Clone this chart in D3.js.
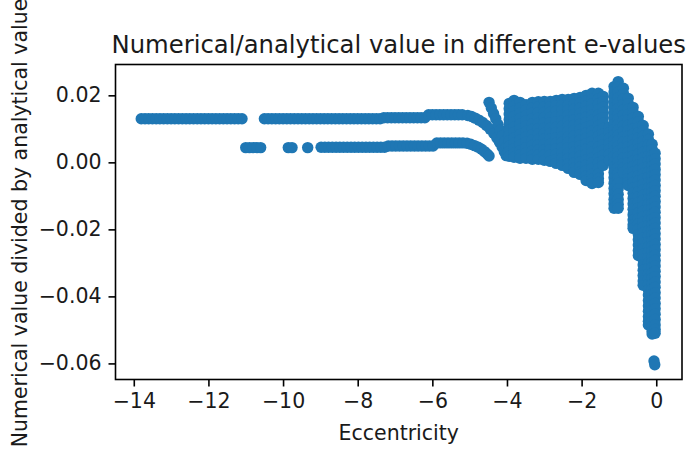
<!DOCTYPE html>
<html>
<head>
<meta charset="utf-8">
<script src="https://cdnjs.cloudflare.com/ajax/libs/d3/7.8.5/d3.min.js"></script>
<style>
    body {margin: 0; background: #fff;}
    text {font-family: "DejaVu Sans", sans-serif;}
</style>
</head>
<body>
<div id="chart"></div>
<script>
let width_chart = 689;
let height_chart = 450;
let plot_box = {left: 115.5, right: 682, top: 64.5, bottom: 379.5};

let x_domain = [-14.49, 0.69];
let y_domain = [-0.0648, 0.0292];
let x_ticks = [-14, -12, -10, -8, -6, -4, -2, 0];
let y_ticks = [-0.06, -0.04, -0.02, 0.00, 0.02];

let title_text = "Numerical/analytical value in different e-values";
let x_label_text = "Eccentricity";
let y_label_text = "Numerical value divided by analytical value";

// upper branch (e, ratio)
let upper_band = [
    [-13.8,0.0130],[-13.7,0.0130],[-13.6,0.0130],[-13.5,0.0130],[-13.4,0.0130],[-13.3,0.0130],[-13.2,0.0130],
    [-13.1,0.0130],[-13.0,0.0130],[-12.9,0.0130],[-12.8,0.0130],[-12.7,0.0130],[-12.6,0.0130],[-12.5,0.0130],
    [-12.4,0.0130],[-12.3,0.0130],[-12.2,0.0130],[-12.1,0.0130],[-12.0,0.0130],[-11.9,0.0130],[-11.8,0.0130],
    [-11.7,0.0130],[-11.6,0.0130],[-11.5,0.0130],[-11.4,0.0130],[-11.3,0.0130],[-11.2,0.0130],[-11.1,0.0130],
    [-10.5,0.0130],[-10.4,0.0130],[-10.3,0.0130],[-10.2,0.0130],[-10.1,0.0130],[-10.0,0.0130],[-9.9,0.0130],
    [-9.8,0.0130],[-9.7,0.0130],[-9.6,0.0130],[-9.5,0.0130],[-9.4,0.0130],[-9.3,0.0130],[-9.2,0.0130],
    [-9.1,0.0130],[-9.0,0.0130],[-8.9,0.0130],[-8.8,0.0130],[-8.7,0.0130],[-8.6,0.0130],[-8.5,0.0130],
    [-8.4,0.0130],[-8.3,0.0130],[-8.2,0.0130],[-8.1,0.0130],[-8.0,0.0130],[-7.9,0.0130],[-7.8,0.0130],
    [-7.7,0.0130],[-7.6,0.0130],[-7.5,0.0130],[-7.4,0.0130],
    [-7.3,0.0133],[-7.2,0.0133],[-7.1,0.0133],[-7.0,0.0133],[-6.9,0.0133],[-6.8,0.0133],[-6.7,0.0133],
    [-6.6,0.0133],[-6.5,0.0133],[-6.4,0.0133],[-6.3,0.0133],[-6.2,0.0133],
    [-6.1,0.0142],[-6.0,0.0142],[-5.9,0.0142],[-5.8,0.0142],[-5.7,0.0142],[-5.6,0.0142],[-5.5,0.0142],
    [-5.4,0.0142],[-5.3,0.0142],[-5.2,0.0142],
    [-5.05,0.0140],[-4.95,0.0137],[-4.85,0.0132],[-4.75,0.0126],[-4.65,0.0119],[-4.55,0.0110],[-4.45,0.0099],
    [-4.35,0.0086],[-4.27,0.0073],[-4.20,0.0060],[-4.13,0.0046],[-4.07,0.0032],[-4.02,0.0020]
];

// lower branch (e, ratio)
let lower_band = [
    [-11.0,0.0044],[-10.9,0.0044],[-10.8,0.0044],[-10.7,0.0044],[-10.6,0.0044],
    [-9.86,0.0044],[-9.76,0.0044],[-9.34,0.0044],
    [-8.98,0.0045],[-8.88,0.0045],[-8.78,0.0045],[-8.68,0.0045],[-8.58,0.0045],[-8.48,0.0045],[-8.38,0.0045],
    [-8.28,0.0045],[-8.18,0.0045],[-8.08,0.0045],[-7.98,0.0045],[-7.88,0.0045],[-7.78,0.0045],[-7.68,0.0045],
    [-7.58,0.0045],[-7.48,0.0045],[-7.38,0.0045],[-7.28,0.0045],
    [-7.18,0.0049],[-7.08,0.0049],[-6.98,0.0049],[-6.88,0.0049],[-6.78,0.0049],[-6.68,0.0049],[-6.58,0.0049],
    [-6.48,0.0049],[-6.38,0.0049],[-6.28,0.0049],[-6.18,0.0049],[-6.08,0.0049],[-5.98,0.0049],
    [-5.88,0.0058],[-5.78,0.0058],[-5.68,0.0058],[-5.58,0.0058],[-5.48,0.0058],[-5.38,0.0058],[-5.28,0.0058],
    [-5.18,0.0058],
    [-5.07,0.0057],[-4.97,0.0054],[-4.87,0.0050],[-4.77,0.0045],[-4.68,0.0039],[-4.60,0.0032],[-4.53,0.0025],
    [-4.48,0.0019]
];

// first spike where the oscillation starts
let first_spike = [
    [-4.48,0.0179],[-4.42,0.0162],[-4.36,0.0146],[-4.30,0.0130],[-4.24,0.0113],[-4.18,0.0096],
    [-4.12,0.0080],[-4.06,0.0063],[-4.01,0.0047],[-3.97,0.0032],[-3.94,0.0020]
];

// oscillating region, one list of ratios per e-value
let cloud_e = [-3.94, -3.81, -3.65, -3.49, -3.32, -3.16, -3.00, -2.84, -2.68, -2.52, -2.36, -2.20, -2.04,
    -1.88, -1.72, -1.55, -1.42, -1.26, -1.13, -1.02, -0.88, -0.75, -0.62, -0.48, -0.35, -0.21, -0.11, -0.03];
let cloud_r = [
    [0.0176,0.0160,0.0144,0.0128,0.0112,0.0096,0.0080,0.0064,0.0048,0.0032,0.0018],
    [0.0185,0.0169,0.0153,0.0137,0.0121,0.0105,0.0089,0.0073,0.0057,0.0041,0.0027,0.0015],
    [0.0179,0.0163,0.0147,0.0131,0.0115,0.0099,0.0083,0.0067,0.0051,0.0035,0.0022,0.0012],
    [0.0172,0.0156,0.0140,0.0124,0.0108,0.0092,0.0076,0.0060,0.0044,0.0028,0.0012],
    [0.0179,0.0163,0.0147,0.0131,0.0115,0.0099,0.0083,0.0067,0.0051,0.0035,0.0021,0.0009],
    [0.0181,0.0165,0.0149,0.0133,0.0117,0.0101,0.0085,0.0069,0.0053,0.0037,0.0022,0.0009],
    [0.0182,0.0166,0.0150,0.0134,0.0118,0.0102,0.0086,0.0070,0.0054,0.0038,0.0022,0.0006],
    [0.0182,0.0166,0.0150,0.0134,0.0118,0.0102,0.0086,0.0070,0.0054,0.0038,0.0022,0.0003],
    [0.0185,0.0169,0.0153,0.0137,0.0121,0.0105,0.0089,0.0073,0.0057,0.0041,0.0025,0.0009,-0.0003],
    [0.0188,0.0172,0.0156,0.0140,0.0124,0.0108,0.0092,0.0076,0.0060,0.0044,0.0028,0.0012,-0.0002,-0.0009],
    [0.0188,0.0172,0.0156,0.0140,0.0124,0.0108,0.0092,0.0076,0.0060,0.0044,0.0028,0.0012,-0.0004,-0.0018],
    [0.0191,0.0175,0.0159,0.0143,0.0127,0.0111,0.0095,0.0079,0.0063,0.0047,0.0031,0.0015,-0.0001,-0.0017,-0.0030],
    [0.0194,0.0178,0.0162,0.0146,0.0130,0.0114,0.0098,0.0082,0.0066,0.0050,0.0034,0.0018,0.0002,-0.0014,-0.0028,-0.0036],
    [0.0200,0.0184,0.0168,0.0152,0.0136,0.0120,0.0104,0.0088,0.0072,0.0056,0.0040,0.0024,0.0008,-0.0008,-0.0024,-0.0040,-0.0054],
    [0.0206,0.0190,0.0174,0.0158,0.0142,0.0126,0.0110,0.0094,0.0078,0.0062,0.0046,0.0030,0.0014,-0.0002,-0.0018,-0.0034,-0.0050,-0.0063],
    [0.0206,0.0190,0.0174,0.0158,0.0142,0.0126,0.0110,0.0094,0.0078,0.0062,0.0046,0.0030,0.0014,-0.0002,-0.0018,-0.0034,-0.0048,-0.0060],
    [0.0197,0.0181,0.0165,0.0149,0.0133,0.0117,0.0101,0.0085,0.0069,0.0053,0.0037,0.0021,0.0005,-0.0009],
    [0.0104,0.0088,0.0072,0.0056,0.0040,0.0024,0.0006],
    [0.0226,0.0210,0.0194,0.0178,0.0162,0.0146,0.0130,0.0114,0.0098,0.0082,0.0066,0.0050,0.0034,0.0018,0.0002,
        -0.0014,-0.0030,-0.0046,-0.0062,-0.0078,-0.0094,-0.0110,-0.0124,-0.0137],
    [0.0241,0.0225,0.0209,0.0193,0.0177,0.0161,0.0145,0.0129,0.0113,0.0097,0.0081,0.0065,0.0049,0.0033,0.0017,
        0.0001,-0.0015,-0.0031,-0.0047,-0.0063,-0.0079,-0.0095,-0.0111,-0.0125,-0.0137],
    [0.0221,0.0205,0.0189,0.0173,0.0157,0.0141,0.0125,0.0109,0.0093,0.0077,0.0061,0.0045,0.0029,0.0013,-0.0003,
        -0.0017,-0.0030],
    [0.0191,0.0175,0.0159,0.0143,0.0127,0.0111,0.0095,0.0079,0.0063,0.0047,0.0031,0.0015,-0.0001,-0.0017,-0.0033,
        -0.0049,-0.0061,-0.0069],
    [0.0164,0.0148,0.0132,0.0116,0.0100,0.0084,0.0068,0.0052,0.0036,0.0020,0.0004,-0.0012,-0.0028,-0.0044,-0.0060,
        -0.0076,-0.0092,-0.0108,-0.0124,-0.0140,-0.0156,-0.0172,-0.0186,-0.0197],
    [0.0137,0.0121,0.0105,0.0089,0.0073,0.0057,0.0041,0.0025,0.0009,-0.0007,-0.0023,-0.0039,-0.0055,-0.0071,-0.0087,
        -0.0103,-0.0119,-0.0135,-0.0151,-0.0167,-0.0183,-0.0199,-0.0215,-0.0231,-0.0247,-0.0263,-0.0278],
    [0.0110,0.0094,0.0078,0.0062,0.0046,0.0030,0.0014,-0.0002,-0.0018,-0.0034,-0.0050,-0.0066,-0.0082,-0.0098,-0.0114,
        -0.0130,-0.0146,-0.0162,-0.0178,-0.0194,-0.0210,-0.0226,-0.0242,-0.0258,-0.0274,-0.0290,-0.0306,-0.0322,
        -0.0338,-0.0354,-0.0367],
    [0.0084,0.0068,0.0052,0.0036,0.0020,0.0004,-0.0012,-0.0028,-0.0044,-0.0060,-0.0076,-0.0092,-0.0108,-0.0124,-0.0140,
        -0.0156,-0.0172,-0.0188,-0.0204,-0.0220,-0.0236,-0.0252,-0.0268,-0.0284,-0.0300,-0.0316,-0.0332,-0.0348,
        -0.0364,-0.0380,-0.0396,-0.0412,-0.0428,-0.0444,-0.0460,-0.0474,-0.0485],
    [0.0054,0.0038,0.0022,0.0006,-0.0010,-0.0026,-0.0042,-0.0058,-0.0074,-0.0090,-0.0106,-0.0122,-0.0138,-0.0154,
        -0.0170,-0.0186,-0.0202,-0.0218,-0.0234,-0.0250,-0.0266,-0.0282,-0.0298,-0.0314,-0.0330,-0.0346,-0.0362,
        -0.0378,-0.0394,-0.0410,-0.0426,-0.0442,-0.0458,-0.0474,-0.0490,-0.0504,-0.0512],
    [0.0027,0.0011,-0.0005,-0.0021,-0.0037,-0.0053,-0.0069,-0.0085,-0.0101,-0.0117,-0.0133,-0.0149,-0.0165,-0.0181,
        -0.0197,-0.0213,-0.0229,-0.0245,-0.0261,-0.0277,-0.0293,-0.0309,-0.0325,-0.0341,-0.0357,-0.0373,-0.0389,
        -0.0405,-0.0421,-0.0437,-0.0453,-0.0469,-0.0485,-0.0499,-0.0510]
];

// two isolated points at the bottom
let tail_points = [[-0.06,-0.0593],[-0.04,-0.0604]];

let all_points = [];
upper_band.forEach((d) => all_points.push({e: d[0], r: d[1]}));
lower_band.forEach((d) => all_points.push({e: d[0], r: d[1]}));
first_spike.forEach((d) => all_points.push({e: d[0], r: d[1]}));
cloud_e.forEach((e, i) => {
    cloud_r[i].forEach((r) => all_points.push({e: e, r: r}));
});
tail_points.forEach((d) => all_points.push({e: d[0], r: d[1]}));

let svg_chart = d3.select("#chart")
    .append("svg")
    .attr("width", width_chart)
    .attr("height", height_chart);

let xScale = d3.scaleLinear().domain(x_domain).range([plot_box.left, plot_box.right]);
let yScale = d3.scaleLinear().domain(y_domain).range([plot_box.bottom, plot_box.top]);

svg_chart.append("g")
    .attr("id", "scatter_points")
    .selectAll("circle")
    .data(all_points)
    .join("circle")
    .attr("cx", (d) => xScale(d.e))
    .attr("cy", (d) => yScale(d.r))
    .attr("r", 5.7)
    .attr("fill", "#1f77b4");

let xAxis = d3.axisBottom(xScale).tickValues(x_ticks).tickSize(7).tickPadding(7)
    .tickFormat(d3.format("d"));
let yAxis = d3.axisLeft(yScale).tickValues(y_ticks).tickSize(7).tickPadding(7)
    .tickFormat(d3.format(".2f"));

let gx = svg_chart.append("g")
    .attr("class", "xTicks")
    .attr("transform", "translate(0," + plot_box.bottom + ")")
    .call(xAxis);
let gy = svg_chart.append("g")
    .attr("class", "yTicks")
    .attr("transform", "translate(" + plot_box.left + ",0)")
    .call(yAxis);

[gx, gy].forEach((g) => {
    g.select(".domain").remove();
    g.attr("font-size", 20.5).attr("font-family", "DejaVu Sans").attr("color", "#000");
    g.selectAll(".tick line").attr("stroke-width", 1.6);
    g.selectAll(".tick text").attr("fill", "#1a1a1a");
});

svg_chart.append("rect")
    .attr("x", plot_box.left)
    .attr("y", plot_box.top)
    .attr("width", plot_box.right - plot_box.left)
    .attr("height", plot_box.bottom - plot_box.top)
    .attr("fill", "none")
    .attr("stroke", "#000")
    .attr("stroke-width", 1.6);

let mid_x = (plot_box.left + plot_box.right) / 2;
let mid_y = (plot_box.top + plot_box.bottom) / 2;

svg_chart.append("text")
    .attr("x", mid_x)
    .attr("y", plot_box.top - 12)
    .attr("text-anchor", "middle")
    .attr("font-size", 24.3)
    .attr("fill", "#1a1a1a")
    .text(title_text);

svg_chart.append("text")
    .attr("x", mid_x)
    .attr("y", 440)
    .attr("text-anchor", "middle")
    .attr("font-size", 20.5)
    .attr("fill", "#1a1a1a")
    .text(x_label_text);

svg_chart.append("text")
    .attr("transform", "translate(27," + (mid_y + 1) + ") rotate(-90)")
    .attr("text-anchor", "middle")
    .attr("font-size", 20.5)
    .attr("fill", "#1a1a1a")
    .text(y_label_text);
</script>
</body>
</html>
